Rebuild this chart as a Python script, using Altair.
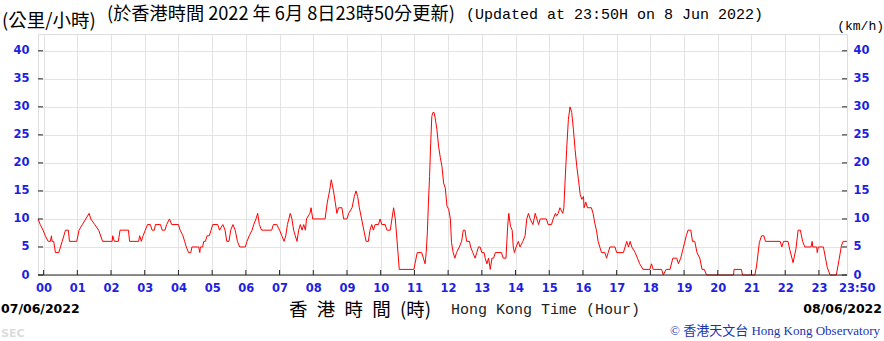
import altair as alt
import pandas as pd

# 10-minute mean wind speed (km/h), time in minutes from 00:00 on 08/06/2022
minutes = [
    -10, -6, -1, 3, 8, 12, 14, 15, 18, 21, 27, 30, 33, 36, 39, 44, 46, 59, 63, 69,
    75, 81, 84, 91, 98, 105, 122, 123, 126, 133, 136, 151, 153, 169, 171, 174, 177, 181, 185, 190,
    193, 197, 199, 208, 211, 216, 219, 224, 228, 240, 243, 248, 251, 254, 258, 262, 264, 276, 278, 279,
    283, 285, 288, 291, 295, 298, 301, 310, 313,
    319, 323, 326, 330, 333, 337, 341, 345, 349, 359, 362, 366, 371, 374, 378, 381, 384, 388, 406, 409,
    415, 420, 424, 428, 431, 434, 439, 442, 445, 448, 451, 454, 457, 460, 463, 466, 468, 474, 476, 479,
    501, 505, 509, 512, 516, 519, 522, 525, 531, 534, 540, 543, 549, 553, 556, 559, 562, 566, 570, 574,
    578, 581, 584, 587, 590, 596, 599, 602, 608, 611, 617, 620, 623, 626, 630, 633, 659,
    661, 665, 673, 676, 679, 681, 683, 685, 687, 689, 691, 693, 695, 697, 700, 703, 706, 709, 712,
    715, 718, 721, 724, 726, 729, 732, 735, 740, 744, 747, 750, 753, 758, 760, 764, 768, 771, 774, 777,
    780, 784, 786, 789, 792, 795, 798, 801, 804, 815, 818, 823, 826, 828, 831, 834, 836, 838, 841, 845,
    848, 853, 857, 860, 863, 866, 871, 875, 878, 881, 884, 895, 898, 904, 907, 911, 913, 916, 919, 924,
    926,
    928, 931, 934, 937, 940, 943, 946, 949, 952, 955, 958, 961, 962, 965, 968, 975, 978, 981, 984, 987,
    990, 993, 999, 1002, 1005, 1008, 1017, 1020, 1032, 1035, 1038, 1041, 1044, 1047, 1053, 1057, 1061, 1067, 1079, 1082,
    1085, 1100, 1103, 1108, 1115, 1120, 1127, 1130, 1134, 1139, 1144, 1147, 1152, 1155, 1159, 1163, 1168, 1172, 1176, 1180,
    1228, 1229, 1242, 1244, 1266, 1269, 1274, 1278, 1282, 1285, 1311, 1314, 1317, 1325, 1328, 1334, 1339, 1343, 1347, 1351,
    1355, 1366, 1368, 1369, 1376, 1377, 1379, 1388, 1391, 1395, 1400, 1411, 1416, 1420, 1423, 1430,
]
speeds = [
    10, 9, 8, 7, 6, 6, 7, 6, 6, 4, 4, 5, 6, 7, 8, 8, 6, 6, 8, 9,
    10, 11, 10, 9, 8, 6, 6, 7, 6, 6, 8, 8, 6, 6, 7, 6, 7, 8, 9, 9,
    8, 8, 9, 9, 8, 8, 9, 10, 9, 9, 8, 7, 6, 5, 4, 4, 5, 5, 4, 5,
    5, 6, 6, 7, 7, 8, 9, 9, 8,
    9, 8, 6, 6, 8, 9, 8, 6, 5, 5, 6, 7, 8, 9, 10, 11, 9, 8, 8, 9,
    9, 8, 7, 6, 7, 9, 11, 10, 8, 7, 6, 8, 9, 8, 9, 8, 10, 11, 12, 10,
    10, 13, 15, 17, 15, 13, 11, 12, 12, 10, 10, 11, 12, 14, 15, 14, 12, 10, 8, 6,
    6, 8, 9, 8, 9, 9, 10, 9, 9, 8, 8, 10, 12, 10, 5, 1, 1,
    2, 4, 4, 3, 2, 4, 7.5, 13, 17.6, 23.5, 28.3, 29, 29, 28, 26, 23, 21, 19.4, 16.4,
    15.5, 12.3, 11.7, 10, 5.8, 4, 3, 4, 5, 6, 8, 8, 6, 6, 5, 4, 3, 4, 5, 5,
    4, 4, 3, 2, 3, 1, 3, 3, 4, 4, 3, 3, 8.7, 11, 8.7, 8, 5, 4, 5, 6,
    5, 6, 7, 10, 11, 10, 9, 11, 10, 9, 10, 10, 9, 9, 10, 11, 10.5, 11, 12, 11,
    12,
    16.4, 22.4, 27.7, 30, 29, 26, 22.4, 19.4, 17, 14.4, 13.5, 14, 12, 13, 12, 12, 11, 9.3, 8, 6,
    5, 4, 4, 3, 4, 5, 5, 4, 4, 5, 6, 5, 6, 5, 4, 3, 2, 1, 1, 2,
    1, 1, 0, 1, 1, 3, 3, 2, 3, 5, 7, 8, 8, 6, 6, 4, 3, 1, 1, 0,
    0, 1, 1, 0, 0, 1.6, 5.8, 7, 7, 6, 6, 5, 6, 6, 4.6, 2.2, 4.6, 8, 8, 6,
    5, 5, 6, 5, 5, 4, 5, 5, 3.4, 1.3, 0, 0, 2.8, 5.2, 6, 6,
]
hours = list(range(24))
speed_ticks = [0, 5, 10, 15, 20, 25, 30, 35, 40]

W, H = 809, 241
BLUE = "#1f1fe0"
CJK = "Noto Sans CJK TC"

df = pd.DataFrame({"t": minutes, "v": speeds})
tick_df = pd.DataFrame({"v": speed_ticks})
hour_df = pd.DataFrame({"t": [h * 60 for h in hours]})
one = pd.DataFrame({"a": [0]})

xs = alt.Scale(domain=[-10, 1430], nice=False, zero=False)
ys = alt.Scale(domain=[0, 43], nice=False)

lab = dict(labelColor=BLUE, labelFont="DejaVu Sans", labelFontWeight="bold",
           labelFontSize=11.5, ticks=False, domain=False, title=None)

x_axis = alt.Axis(
    values=[h * 60 for h in hours],
    labelExpr="(datum.value < 600 ? '0' : '') + format(datum.value / 60, 'd')",
    grid=True, gridColor="#e3e3e3", labelPadding=7, labelFlush=False,
    labelOverlap=False, **lab)

base_line = alt.Chart(df).mark_line(color="#ff0000", strokeWidth=1).encode(
    x=alt.X("t:Q", scale=xs, axis=x_axis),
    y=alt.Y("v:Q", scale=ys, axis=alt.Axis(
        values=speed_ticks, orient="left", grid=True, gridColor="#e3e3e3",
        labelPadding=9, **lab)),
)

bottom_border = alt.Chart(one).mark_rule(color="#222", strokeWidth=1).encode(
    x=alt.value(0), x2=alt.value(W), y=alt.value(H))

left_ticks = alt.Chart(tick_df).mark_rule(color="#222").encode(
    y=alt.Y("v:Q", scale=ys, axis=None), x=alt.value(0), x2=alt.value(5))
right_ticks = alt.Chart(tick_df).mark_rule(color="#222").encode(
    y=alt.Y("v:Q", scale=ys, axis=alt.Axis(values=speed_ticks, orient="right",
                                          grid=False, labelPadding=6, **lab)),
    x=alt.value(W - 5), x2=alt.value(W))
bottom_ticks = alt.Chart(hour_df).mark_rule(color="#222").encode(
    x=alt.X("t:Q", scale=xs, axis=x_axis), y=alt.value(H - 5), y2=alt.value(H))


def txt(s, x, y, font, size, color="#000", align="left", weight="normal"):
    return alt.Chart(one).mark_text(
        text=s, font=font, fontSize=size, color=color, align=align,
        baseline="middle", fontWeight=weight).encode(x=alt.value(x), y=alt.value(y))


texts = [
    txt("(公里/小時)", -36, -13, CJK, 18.5),
    txt("(於香港時間 2022 年 6月 8日23時50分更新)", 69, -19.5, CJK, 18.2),
    txt("(Updated at 23:50H on 8 Jun 2022)", 428, -20.5, "Liberation Mono", 15),
    txt("(km/h)", 846, -8.5, "Liberation Mono", 13, align="right"),
    txt("23:50", 801, 255, "DejaVu Sans", 11.5, color=BLUE, weight="bold"),
    txt("07/06/2022", -37, 275, "DejaVu Sans", 12.5, weight="bold"),
    txt("08/06/2022", 844, 275, "DejaVu Sans", 12.5, align="right", weight="bold"),
    txt("香\u2002港\u2002時\u2002間\u2002(時)", 251, 276, CJK, 18.5),
    txt("Hong Kong Time (Hour)", 413, 275, "Liberation Mono", 15, color="#222"),
    txt("SEC", -37, 300, "DejaVu Sans", 11, color="#dcdcdc", weight="bold"),
    txt("© 香港天文台 Hong Kong Observatory", 842, 297,
        "Liberation Serif, Noto Sans CJK TC", 13, color="#1a33b3", align="right"),
]

chart = alt.layer(
    base_line, bottom_border, left_ticks, right_ticks, bottom_ticks, *texts
).resolve_axis(y="independent").properties(
    width=W, height=H,
    autosize=alt.AutoSizeParams(type="none"),
    padding={"left": 38, "top": 34, "right": 37, "bottom": 66},
).configure_view(stroke="#222", strokeWidth=1).configure(background="white")

chart.save("out.html", embed_options={"renderer": "svg", "actions": False})
